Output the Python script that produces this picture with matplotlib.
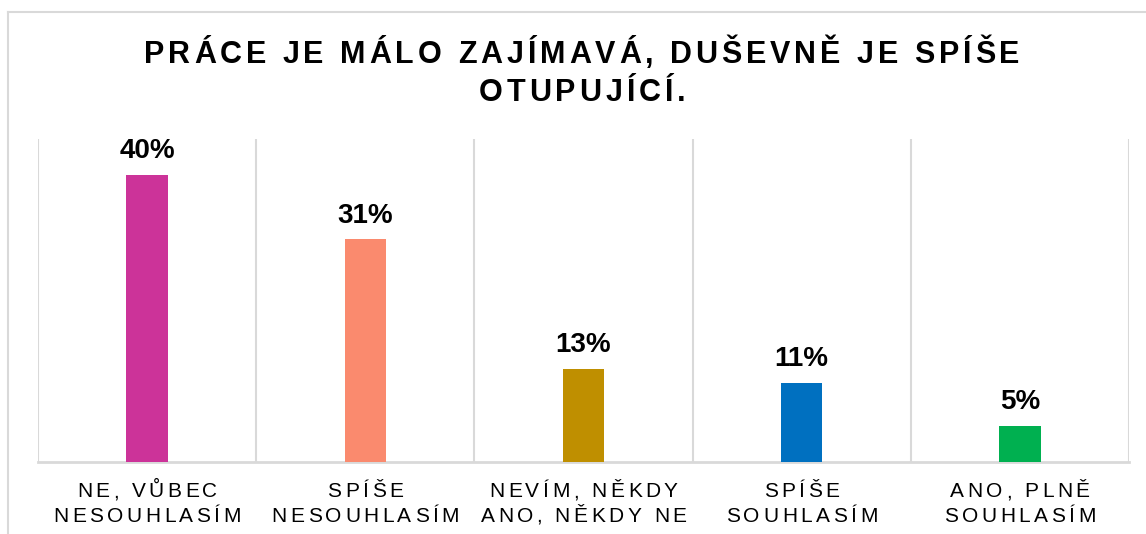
import matplotlib
matplotlib.use("Agg")
import matplotlib.pyplot as plt
from matplotlib.font_manager import FontProperties
from matplotlib.transforms import IdentityTransform
from matplotlib.lines import Line2D

# data
categories = ["NE, VŮBEC\nNESOUHLASÍM", "SPÍŠE\nNESOUHLASÍM", "NEVÍM, NĚKDY\nANO, NĚKDY NE",
              "SPÍŠE\nSOUHLASÍM", "ANO, PLNĚ\nSOUHLASÍM"]
values = [40, 31, 13, 11, 5]
colors = ["#CC3399", "#FA8A6E", "#BF8F00", "#0070C0", "#00B050"]
title_lines = ["PRÁCE JE MÁLO ZAJÍMAVÁ, DUŠEVNĚ JE SPÍŠE", "OTUPUJÍCÍ."]

W, H = 1146, 534
FONT = "Liberation Sans"
GRID = "#D9D9D9"

fig = plt.figure(figsize=(W / 100, H / 100), dpi=100)
ax = fig.add_axes([38 / W, (H - 462) / H, (1129 - 38) / W, (462 - 139) / H])

x = range(len(values))
ax.bar(x, values, width=0.19, color=colors, zorder=3)
ax.set_xlim(-0.5, len(values) - 0.5)
ax.set_ylim(0, 45)
for gx in [i - 0.5 for i in range(len(values) + 1)]:
    ax.axvline(gx, color=GRID, lw=1.5, zorder=1)
for s in ["top", "left", "right"]:
    ax.spines[s].set_visible(False)
ax.spines["bottom"].set_color(GRID)
ax.spines["bottom"].set_linewidth(2)
ax.set_xticks([])
ax.set_yticks([])

# value labels above bars
for i, v in enumerate(values):
    ax.annotate(f"{v}%", xy=(i, v), xytext=(0, 12.2), textcoords="offset points",
                ha="center", va="baseline", fontsize=20, fontweight="bold",
                family=FONT, color="black")

# chart border (left and top edges visible)
fig.add_artist(Line2D([8 / W, 8 / W], [0, 1 - 12 / H], color=GRID, lw=1.5))
fig.add_artist(Line2D([8 / W, 1], [1 - 12 / H, 1 - 12 / H], color=GRID, lw=1.5))

fig.canvas.draw()
renderer = fig.canvas.get_renderer()


def tracked(s, xc, y_base, size, weight, track=3.5):
    """Draw centered text with extra letter spacing (pixel coords, y from top)."""
    prop = FontProperties(family=FONT, size=size, weight=weight)
    widths = [renderer.get_text_width_height_descent(ch, prop, ismath=False)[0] for ch in s]
    total = sum(widths) + track * (len(s) - 1)
    px = xc - total / 2
    for ch, w in zip(s, widths):
        fig.text(px, H - y_base, ch, fontproperties=prop, ha="left", va="baseline",
                 transform=IdentityTransform(), color="black")
        px += w + track


# title
tracked(title_lines[0], 582, 63, 22, "bold", track=3.9)
tracked(title_lines[1], 582, 101, 22, "bold", track=3.9)

# category labels
for i, lab in enumerate(categories):
    xc = ax.transData.transform((i, 0))[0]
    for j, line in enumerate(lab.split("\n")):
        tracked(line, xc, 497 + j * 25, 15, "normal")

fig.savefig("out.png", dpi=100)
